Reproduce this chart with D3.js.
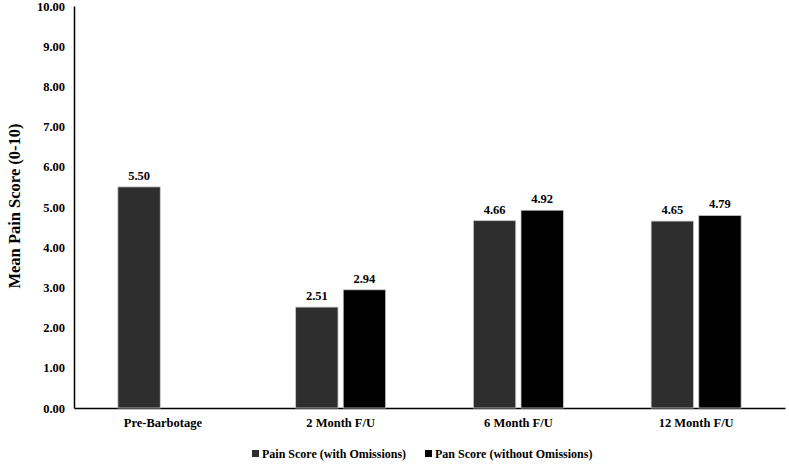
<!DOCTYPE html>
<meta charset="utf-8">
<html>
<head>
<style>
body { margin: 0; background: #fff; }
text { font-family: "Liberation Serif", "Times New Roman", serif; font-weight: bold; }
</style>
</head>
<body>
<svg id="chart" width="789" height="464"></svg>
<script src="https://d3js.org/d3.v7.min.js"></script>
<script>
// categories and series
var categories = ["Pre-Barbotage", "2 Month F/U", "6 Month F/U", "12 Month F/U"];
var seriesNames = ["Pain Score (with Omissions)", "Pan Score (without Omissions)"];
var withOmissions = [5.50, 2.51, 4.66, 4.65];
var withoutOmissions = [null, 2.94, 4.92, 4.79];
var yTicks = [0, 1, 2, 3, 4, 5, 6, 7, 8, 9, 10];
var colors = ["#2e2e2e", "#000000"];

var margin = {top: 6, right: 4, bottom: 56, left: 74},
    width = 789 - margin.left - margin.right,
    height = 464 - margin.top - margin.bottom;

var svg = d3.select("#chart")
  .append("g")
    .attr("transform", "translate(" + margin.left + "," + margin.top + ")");

var x = d3.scaleBand()
  .domain(categories)
  .range([0, width]);

var x1 = d3.scaleBand()
  .domain([0, 1])
  .range([x.bandwidth() / 2 - 45, x.bandwidth() / 2 + 45])
  .paddingInner(0.11);

var y = d3.scaleLinear()
  .domain([0, 10])
  .range([height, 0]);

// y axis
var yAxis = svg.append("g")
  .call(d3.axisLeft(y).tickValues(yTicks).tickSize(0).tickPadding(9).tickFormat(d3.format(".2f")));
yAxis.select(".domain").attr("stroke", "#000").attr("stroke-width", 1.5);
yAxis.selectAll("text")
  .style("font-family", "Liberation Serif, serif")
  .style("font-weight", "bold")
  .style("font-size", "12.5px")
  .attr("fill", "#000");

// x axis
var xAxis = svg.append("g")
  .attr("transform", "translate(0," + height + ")")
  .call(d3.axisBottom(x).tickSize(0).tickPadding(10));
xAxis.select(".domain").attr("stroke", "#000").attr("stroke-width", 1.5);
xAxis.selectAll("text")
  .style("font-family", "Liberation Serif, serif")
  .style("font-weight", "bold")
  .style("font-size", "12.5px")
  .attr("fill", "#000");

// y label
svg.append("text")
  .attr("transform", "rotate(-90)")
  .attr("x", -height / 2 + 1)
  .attr("y", -54)
  .style("text-anchor", "middle")
  .style("font-size", "16.5px")
  .text("Mean Pain Score (0-10)");

// bars
var rows = categories.map(function(c, i) {
  return {cat: c, vals: [withOmissions[i], withoutOmissions[i]]};
});

var groups = svg.selectAll(".grp")
  .data(rows)
  .enter().append("g")
    .attr("transform", function(d) { return "translate(" + x(d.cat) + ",0)"; });

groups.selectAll("rect")
  .data(function(d) { return d.vals.map(function(v, k) { return {k: k, v: v}; }).filter(function(e) { return e.v != null; }); })
  .enter().append("rect")
    .attr("x", function(d) { return x1(d.k); })
    .attr("y", function(d) { return y(d.v); })
    .attr("width", x1.bandwidth())
    .attr("height", function(d) { return height - y(d.v); })
    .attr("fill", function(d) { return colors[d.k]; })
    .attr("stroke", "#c8c8c8")
    .attr("stroke-width", 0.8);

groups.selectAll(".val")
  .data(function(d) { return d.vals.map(function(v, k) { return {k: k, v: v}; }).filter(function(e) { return e.v != null; }); })
  .enter().append("text")
    .attr("x", function(d) { return x1(d.k) + x1.bandwidth() / 2; })
    .attr("y", function(d) { return y(d.v) - 7; })
    .style("text-anchor", "middle")
    .style("font-size", "12.5px")
    .text(function(d) { return d.v.toFixed(2); });

// legend
var legendX = [178, 351];
var legend = svg.selectAll(".leg")
  .data(seriesNames)
  .enter().append("g")
    .attr("transform", function(d, i) { return "translate(" + legendX[i] + "," + (height + 46) + ")"; });
legend.append("rect")
  .attr("x", 0).attr("y", -4)
  .attr("width", 7).attr("height", 7)
  .attr("fill", function(d, i) { return colors[i]; });
legend.append("text")
  .attr("x", 10)
  .attr("y", 4)
  .style("font-size", "12px")
  .text(function(d) { return d; });
</script>
</body>
</html>
